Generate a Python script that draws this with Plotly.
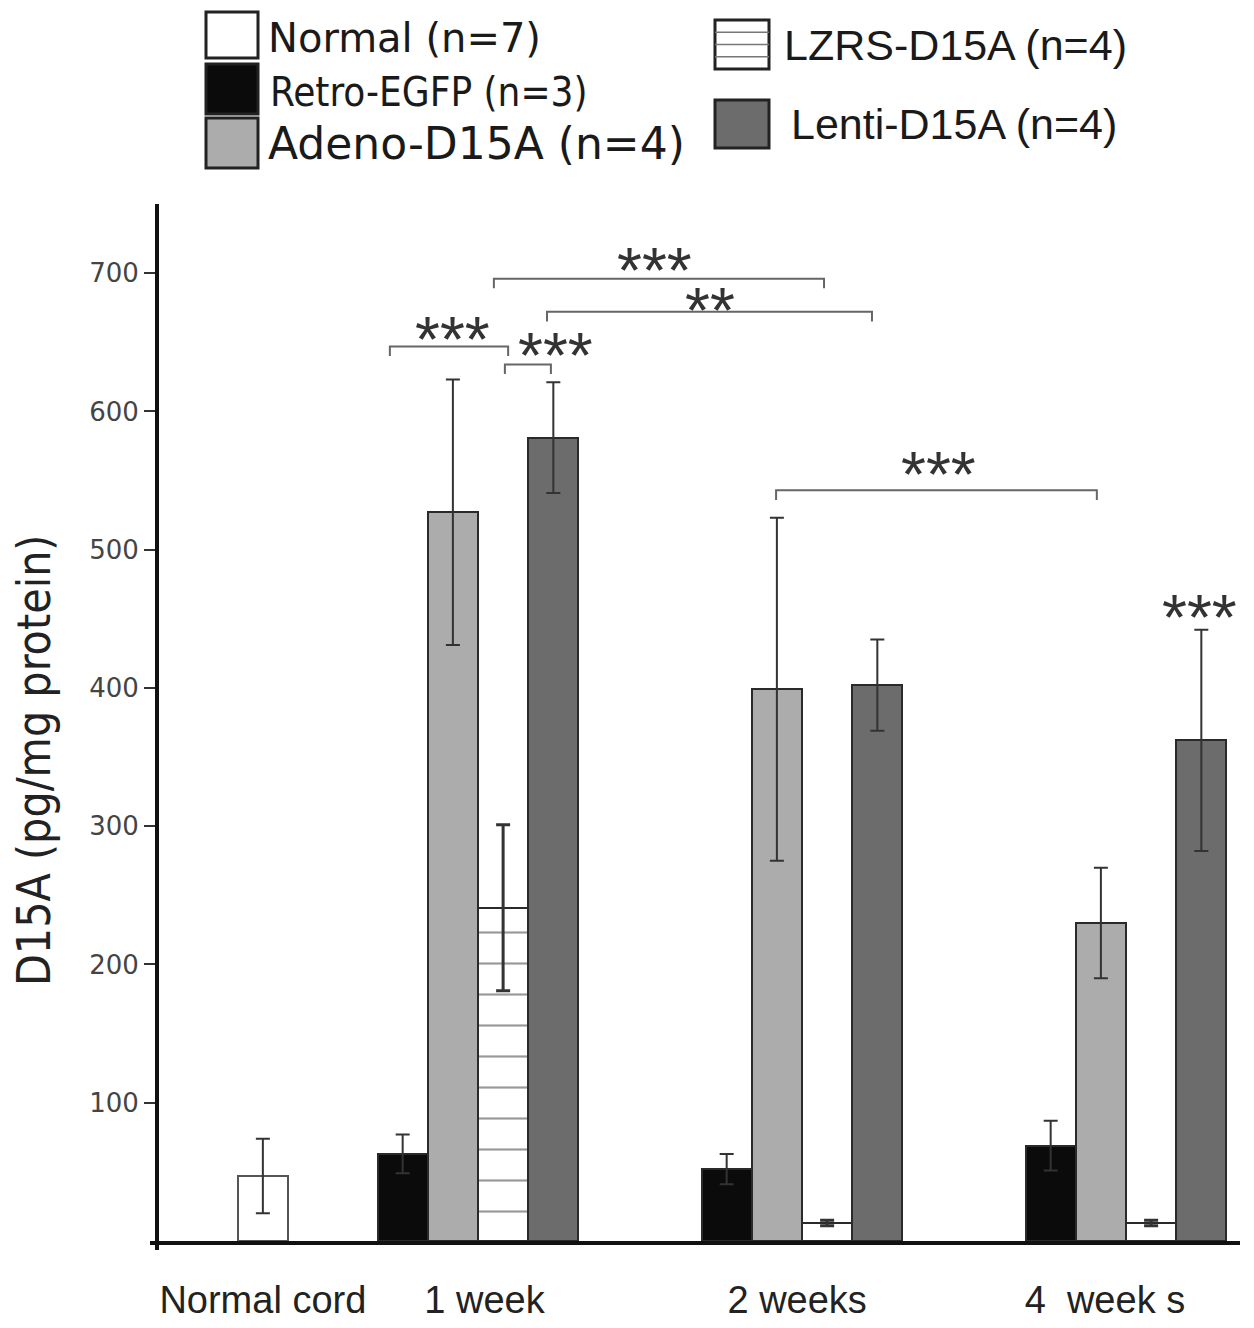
import plotly.graph_objects as go

# ---------------- data ----------------
groups = ["Normal cord", "1 week", "2 weeks", "4  week s"]
group_pos = [0.336, 1.0, 2.0, 3.0]
label_pos = [0.336, 1.02, 1.985, 2.935]

normal_val = [47]
normal_err = [27]
retro_val = [63, 52, 69]
retro_err = [14, 11, 18]
adeno_val = [527, 399, 230]
adeno_err = [96, 124, 40]
lzrs_val = [241, 13, 13]
lzrs_err = [60, 2, 2]
lenti_val = [581, 402, 362]
lenti_err = [40, 33, 80]

y_ticks = [100, 200, 300, 400, 500, 600, 700]

# significance brackets: (x_start, x_end, y_level, label, label_x, label_y)
brackets = [
    (0.728, 1.093, 647, "***", 0.920, 659),
    (1.083, 1.225, 634, "***", 1.238, 647),
    (1.049, 2.068, 696, "***", 1.546, 709),
    (1.213, 2.216, 672, "**", 1.716, 680),
    (1.920, 2.910, 543, "***", 2.420, 561),
]
lone_stars = [("***", 3.228, 458)]

# ---------------- styling ----------------
W = 0.155  # bar width in axis units
C_WHITE = "#ffffff"
C_BLACK = "#0b0b0b"
C_LIGHT = "#acacac"
C_DARK = "#6c6c6c"
EDGE = "#2a2a2a"
ERR = dict(type="data", color="#333333", thickness=2, width=7)

FIG_W, FIG_H = 1254, 1328
PL, PR, PT, PB = 159, 1240, 204, 1241  # plot area in page pixels
L = PL
R = FIG_W - PR
T = PT
B = FIG_H - PB
PW = FIG_W - L - R
PH = FIG_H - T - B


def px(x):
    return (x - PL) / PW


def py(y):
    return (PB - y) / PH


fig = go.Figure()

fig.add_trace(go.Bar(
    name="Normal (n=7)", x=[group_pos[0]], y=normal_val, width=W, offset=-W / 2,
    marker=dict(color=C_WHITE, line=dict(color="#555555", width=2)),
    error_y=dict(ERR, array=normal_err), showlegend=False))

wk = group_pos[1:]
fig.add_trace(go.Bar(
    name="Retro-EGFP (n=3)", x=wk, y=retro_val, width=W, offset=-2 * W,
    marker=dict(color=C_BLACK, line=dict(color=EDGE, width=2)),
    error_y=dict(ERR, array=retro_err), showlegend=False))
fig.add_trace(go.Bar(
    name="Adeno-D15A (n=4)", x=wk, y=adeno_val, width=W, offset=-W,
    marker=dict(color=C_LIGHT, line=dict(color=EDGE, width=2)),
    error_y=dict(ERR, array=adeno_err), showlegend=False))
fig.add_trace(go.Bar(
    name="LZRS-D15A (n=4)", x=wk, y=lzrs_val, width=W, offset=0,
    marker=dict(color=C_WHITE, line=dict(color=EDGE, width=2),
                pattern=dict(shape="-", size=31, solidity=0.07,
                             fgcolor="#333333", bgcolor=C_WHITE)),
    error_y=dict(ERR, array=lzrs_err, thickness=3), showlegend=False))
fig.add_trace(go.Bar(
    name="Lenti-D15A (n=4)", x=wk, y=lenti_val, width=W, offset=W,
    marker=dict(color=C_DARK, line=dict(color=EDGE, width=2)),
    error_y=dict(ERR, array=lenti_err), showlegend=False))

shapes = []
annotations = []

STAR_FONT = dict(family="Liberation Sans, Arial", size=64, color="#333333")

# significance brackets
for x0, x1, yl, lab, lx, ly in brackets:
    drop = 7
    shapes.append(dict(type="path", xref="x", yref="y",
                       path=f"M {x0},{yl - drop} L {x0},{yl} L {x1},{yl} L {x1},{yl - drop}",
                       line=dict(color="#666666", width=2)))
    annotations.append(dict(text=lab, x=lx, y=ly, xref="x", yref="y", showarrow=False,
                            yshift=-10, font=STAR_FONT))
for lab, lx, ly in lone_stars:
    annotations.append(dict(text=lab, x=lx, y=ly, xref="x", yref="y", showarrow=False,
                            yshift=-10, font=STAR_FONT))

# small axis overhangs (y axis runs slightly below the x axis, x axis slightly left)
shapes.append(dict(type="line", xref="paper", yref="paper", x0=px(157), x1=px(157),
                   y0=py(1241), y1=py(1250), line=dict(color="#111111", width=4)))
shapes.append(dict(type="line", xref="paper", yref="paper", x0=px(150), x1=px(159),
                   y0=py(1243), y1=py(1243), line=dict(color="#111111", width=4)))

# custom legend (boxes + labels), positions in page pixels
legend_items = [
    ("Normal (n=7)", C_WHITE, 206, 12, 258, 58, "DejaVu Sans", 40, False, 8, 38),
    ("Retro-EGFP (n=3)", C_BLACK, 206, 64, 258, 114, "DejaVu Sans Condensed, DejaVu Sans", 40, False, 10, 92),
    ("Adeno-D15A (n=4)", C_LIGHT, 206, 118, 258, 168, "DejaVu Sans", 44, False, 8, 143),
    ("LZRS-D15A (n=4)", C_WHITE, 715, 20, 769, 69, "Liberation Sans, Arial", 43, True, 13, 45),
    ("Lenti-D15A (n=4)", C_DARK, 715, 100, 769, 148, "Liberation Sans, Arial", 43, False, 20, 124),
]
for lab, col, bx0, by0, bx1, by1, fam, fs, striped, gap, ty in legend_items:
    shapes.append(dict(type="rect", xref="paper", yref="paper",
                       x0=px(bx0), x1=px(bx1), y0=py(by1), y1=py(by0),
                       fillcolor=col, line=dict(color="#222222", width=3)))
    if striped:
        for k in (1, 2, 3):
            yy = by0 + (by1 - by0) * k / 4
            shapes.append(dict(type="line", xref="paper", yref="paper",
                               x0=px(bx0), x1=px(bx1), y0=py(yy), y1=py(yy),
                               line=dict(color="#777777", width=1.5)))
    annotations.append(dict(text=lab, x=px(bx1 + gap), y=py(ty),
                            xref="paper", yref="paper", xanchor="left", yanchor="middle",
                            showarrow=False, font=dict(family=fam, size=fs, color="#1a1a1a")))

# y-axis title (placed as rotated text to match the original's vertical offset)
annotations.append(dict(text="D15A (pg/mg protein)", x=px(34), y=py(760),
                        xref="paper", yref="paper", xanchor="center", yanchor="middle",
                        textangle=-90, showarrow=False,
                        font=dict(family="DejaVu Sans Condensed, Arial", size=46, color="#222222")))

fig.update_layout(
    width=FIG_W, height=FIG_H,
    margin=dict(l=L, r=R, t=T, b=B, pad=0, autoexpand=False),
    paper_bgcolor="white", plot_bgcolor="white",
    barmode="overlay", bargap=0,
    shapes=shapes, annotations=annotations,
    showlegend=False,
)
fig.update_xaxes(
    range=[1 + (PL - 478) / 324, 1 + (PR - 478) / 324],
    tickmode="array", tickvals=label_pos, ticktext=groups,
    showline=True, linecolor="#111111", linewidth=4,
    ticks="", showgrid=False, zeroline=False, automargin=False,
    ticklabelstandoff=22,
    tickfont=dict(family="Liberation Sans, Arial", size=38, color="#222222"),
)
fig.update_yaxes(
    range=[0, 750],
    tickmode="array", tickvals=y_ticks,
    showline=True, linecolor="#111111", linewidth=4,
    ticks="outside", ticklen=11, tickwidth=2, tickcolor="#333333",
    ticklabelstandoff=0, automargin=False,
    showgrid=False, zeroline=False,
    tickfont=dict(family="DejaVu Sans", size=26, color="#444444"),
)

fig.write_html("out.html", config={"displayModeBar": False},
               post_script="document.body.style.margin='0';document.body.style.overflow='hidden';")
